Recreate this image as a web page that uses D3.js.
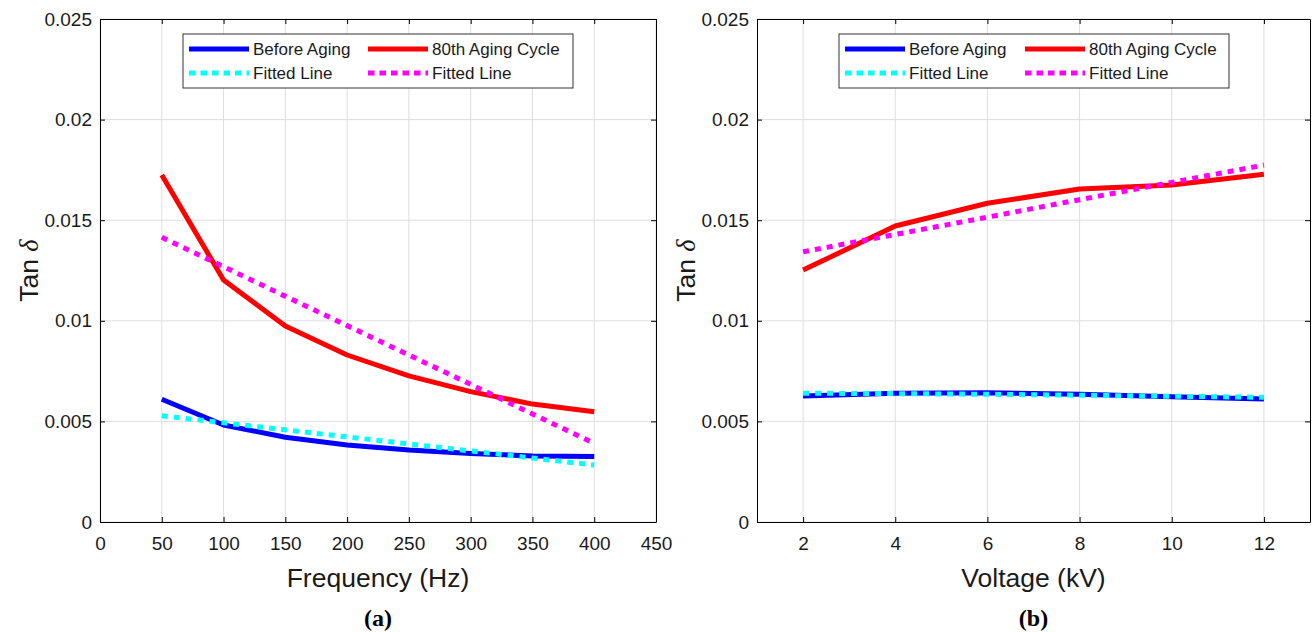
<!DOCTYPE html>
<html><head><meta charset="utf-8">
<script src="https://cdn.jsdelivr.net/npm/d3@7"></script>
<style>
body{margin:0;background:#fff;}
text{font-family:"Liberation Sans",Arial,Helvetica,sans-serif;}
</style></head>
<body><svg id="c" width="1313" height="632"></svg>
<script>
// ---- data ----
const freq = [50,100,150,200,250,300,350,400];
const freqBefore = [0.00610,0.00482,0.00421,0.00383,0.00358,0.00341,0.00328,0.00325];
const freqBeforeFit = [0.00528,0.00493,0.00458,0.00423,0.00388,0.00353,0.00318,0.00283];
const freqAged = [0.01725,0.01203,0.00974,0.00830,0.00726,0.00648,0.00586,0.00548];
const freqAgedFit = [0.01415,0.01269,0.01122,0.00976,0.00830,0.00684,0.00537,0.00391];

const volt = [2,4,6,8,10,12];
const voltBefore = [0.00626,0.00640,0.00643,0.00635,0.00623,0.00611];
const voltBeforeFit = [0.00640,0.00638,0.00635,0.00630,0.00625,0.00620];
const voltAged = [0.01252,0.01471,0.01584,0.01655,0.01675,0.01728];
const voltAgedFit = [0.01343,0.01429,0.01515,0.01602,0.01688,0.01774];

const yTicks = [0,0.005,0.01,0.015,0.02,0.025];
const yTickLabels = ["0","0.005","0.01","0.015","0.02","0.025"];
const freqTicks = [0,50,100,150,200,250,300,350,400,450];
const voltTicks = [2,4,6,8,10,12];
const legendLabels = ["Before Aging","80th Aging Cycle","Fitted Line","Fitted Line"];

const svg = d3.select("#c");

function panel(opt){
  const {x0,x1,y0,y1,xDomain,xTicks,xs,series,xlabel,tag,legendX,colStep} = opt;
  const x = d3.scaleLinear().domain(xDomain).range([x0,x1]);
  const y = d3.scaleLinear().domain([0,0.025]).range([y1,y0]);
  const g = svg.append("g");
  // grid
  g.selectAll(".gx").data(xTicks).enter().append("line")
    .attr("x1",d=>x(d)).attr("x2",d=>x(d)).attr("y1",y0).attr("y2",y1)
    .attr("stroke","#dedede").attr("stroke-width",1);
  g.selectAll(".gy").data(yTicks).enter().append("line")
    .attr("y1",d=>y(d)).attr("y2",d=>y(d)).attr("x1",x0).attr("x2",x1)
    .attr("stroke","#dedede").attr("stroke-width",1);
  // series
  const line = d3.line().x((d,i)=>x(xs[i])).y(d=>y(d));
  series.forEach(s=>{
    g.append("path").datum(s.v).attr("d",line).attr("fill","none")
      .attr("stroke",s.c).attr("stroke-width",s.w)
      .attr("stroke-dasharray",s.dash||null)
      .attr("stroke-linejoin","round");
  });
  // axes with inward ticks
  const axB = d3.axisBottom(x).tickValues(xTicks).tickSizeInner(-5).tickSizeOuter(0).tickFormat(d3.format("d"));
  const axT = d3.axisTop(x).tickValues(xTicks).tickSizeInner(-5).tickSizeOuter(0).tickFormat("");
  const axL = d3.axisLeft(y).tickValues(yTicks).tickSizeInner(-5).tickSizeOuter(0).tickFormat((d,i)=>yTickLabels[i]);
  const axR = d3.axisRight(y).tickValues(yTicks).tickSizeInner(-5).tickSizeOuter(0).tickFormat("");
  const gb = g.append("g").attr("transform",`translate(0,${y1})`).call(axB);
  const gt = g.append("g").attr("transform",`translate(0,${y0})`).call(axT);
  const gl = g.append("g").attr("transform",`translate(${x0},0)`).call(axL);
  const gr = g.append("g").attr("transform",`translate(${x1},0)`).call(axR);
  [gb,gt,gl,gr].forEach(a=>{
    a.select(".domain").attr("stroke","#000").attr("stroke-width",1);
    a.selectAll(".tick line").attr("stroke","#000");
  });
  gb.selectAll(".tick text").attr("font-size",19).attr("fill","#1a1a1a")
    .attr("y",28).attr("dy",0)
    .attr("font-family","Liberation Sans, Arial, sans-serif");
  gl.selectAll(".tick text").attr("font-size",19).attr("fill","#1a1a1a").attr("x",-8)
    .attr("font-family","Liberation Sans, Arial, sans-serif");
  // labels
  g.append("text").attr("x",(x0+x1)/2).attr("y",587).attr("text-anchor","middle")
    .attr("font-size",26.5).attr("fill","#1a1a1a").text(xlabel);
  const yl = g.append("text").attr("transform",`translate(${x0-62},${(y0+y1)/2}) rotate(-90)`)
    .attr("text-anchor","middle").attr("font-size",26.5).attr("fill","#1a1a1a");
  yl.append("tspan").text("Tan ");
  yl.append("tspan").attr("font-style","italic").attr("font-family","Liberation Serif, Times New Roman, serif").text("δ");
  g.append("text").attr("x",(x0+x1)/2).attr("y",626).attr("text-anchor","middle")
    .attr("font-size",24).attr("font-weight","bold")
    .style("font-family","Liberation Serif, Times New Roman, serif").text(tag);
  // legend
  const lx = legendX, ly = 34, lw = 390, lh = 54;
  const lg = g.append("g");
  lg.append("rect").attr("x",lx).attr("y",ly).attr("width",lw).attr("height",lh)
    .attr("fill","#fff").attr("stroke","#333").attr("stroke-width",1);
  const items = [
    {c:"#0000ff",dash:null,label:legendLabels[0],col:0,row:0},
    {c:"#ff0000",dash:null,label:legendLabels[1],col:1,row:0},
    {c:"#00ffff",dash:"6.5,5",label:legendLabels[2],col:0,row:1},
    {c:"#ff00ff",dash:"6.5,5",label:legendLabels[3],col:1,row:1}
  ];
  items.forEach(it=>{
    const sx = lx + 6 + it.col*colStep;
    const sy = ly + 15 + it.row*24;
    lg.append("line").attr("x1",sx).attr("x2",sx+60).attr("y1",sy).attr("y2",sy)
      .attr("stroke",it.c).attr("stroke-width",5).attr("stroke-dasharray",it.dash);
    lg.append("text").attr("x",sx+64).attr("y",sy+6).attr("font-size",17).attr("fill","#1a1a1a").text(it.label);
  });
}

panel({x0:100,x1:656,y0:19,y1:522,xDomain:[0,450],xTicks:freqTicks,xs:freq,
  xlabel:"Frequency (Hz)",tag:"(a)",legendX:183,colStep:179,
  series:[
    {v:freqBefore,c:"#0000ff",w:5},
    {v:freqAged,c:"#ff0000",w:5},
    {v:freqBeforeFit,c:"#00ffff",w:5,dash:"6,6"},
    {v:freqAgedFit,c:"#ff00ff",w:5,dash:"6,6"}
  ]});
panel({x0:757,x1:1310,y0:19,y1:522,xDomain:[1,13],xTicks:voltTicks,xs:volt,
  xlabel:"Voltage (kV)",tag:"(b)",legendX:839,colStep:180,
  series:[
    {v:voltBefore,c:"#0000ff",w:5},
    {v:voltAged,c:"#ff0000",w:5},
    {v:voltBeforeFit,c:"#00ffff",w:5,dash:"6,6"},
    {v:voltAgedFit,c:"#ff00ff",w:5,dash:"6,6"}
  ]});
</script></body></html>
